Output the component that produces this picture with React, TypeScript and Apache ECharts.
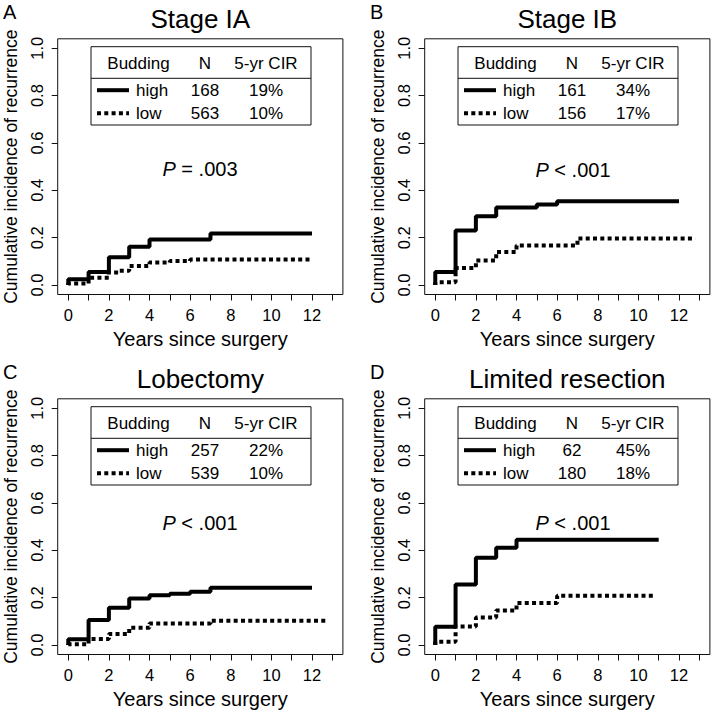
import React, { useEffect, useRef } from "react";
import * as echarts from "echarts";

// ---- Data ----
const panelTitles = ["Stage IA", "Stage IB", "Lobectomy", "Limited resection"];
const panelLetters = ["A", "B", "C", "D"];
const highN = ["168", "161", "257", "62"];
const lowN = ["563", "156", "539", "180"];
const highCIR = ["19%", "34%", "22%", "45%"];
const lowCIR = ["10%", "17%", "10%", "18%"];
const pValues = ["= .003", "< .001", "< .001", "< .001"];

const stageIAHighYears = [0, 0, 1, 2, 3, 4, 7, 12];
const stageIAHighCIR = [0, 0.024, 0.055, 0.117, 0.162, 0.192, 0.218, 0.218];
const stageIALowYears = [0, 0, 1, 2, 2.5, 3, 4, 5, 6, 12];
const stageIALowCIR = [0, 0.006, 0.031, 0.053, 0.06, 0.08, 0.095, 0.102, 0.108, 0.108];

const stageIBHighYears = [0, 0, 1, 2, 3, 5, 6, 12];
const stageIBHighCIR = [0, 0.055, 0.23, 0.29, 0.327, 0.34, 0.354, 0.354];
const stageIBLowYears = [0, 0, 1, 2, 3, 4, 7, 12.8];
const stageIBLowCIR = [0, 0.012, 0.072, 0.104, 0.14, 0.167, 0.197, 0.197];

const lobectomyHighYears = [0, 0, 1, 2, 3, 4, 5, 6, 7, 12];
const lobectomyHighCIR = [0, 0.024, 0.106, 0.157, 0.197, 0.21, 0.217, 0.225, 0.242, 0.242];
const lobectomyLowYears = [0, 0, 1, 2, 3, 4, 7, 12.8];
const lobectomyLowCIR = [0, 0.003, 0.025, 0.047, 0.073, 0.091, 0.103, 0.103];

const limitedHighYears = [0, 0, 1, 2, 3, 4, 11];
const limitedHighCIR = [0, 0.077, 0.256, 0.369, 0.411, 0.445, 0.445];
const limitedLowYears = [0, 0, 1, 2, 3, 4, 6, 10.85];
const limitedLowCIR = [0, 0.014, 0.078, 0.116, 0.146, 0.177, 0.208, 0.208];

const xTicks = [0, 1, 2, 3, 4, 5, 6, 7, 8, 9, 10, 11, 12, 13];
const xTickLabels = [0, 2, 4, 6, 8, 10, 12];
const yTicks = [0, 0.2, 0.4, 0.6, 0.8, 1.0];

const highSeries = [
  [stageIAHighYears, stageIAHighCIR],
  [stageIBHighYears, stageIBHighCIR],
  [lobectomyHighYears, lobectomyHighCIR],
  [limitedHighYears, limitedHighCIR],
];
const lowSeries = [
  [stageIALowYears, stageIALowCIR],
  [stageIBLowYears, stageIBLowCIR],
  [lobectomyLowYears, lobectomyLowCIR],
  [limitedLowYears, limitedLowCIR],
];

// ---- Layout ----
const FONT = "'Liberation Sans', Arial, Helvetica, sans-serif";
const DX = [0, 367, 0, 367];
const DY = [0, 0, 360, 360];
const GRID_LEFT = 57.7;
const GRID_TOP = 38.8;
const GRID_W = 285.2;
const GRID_H = 255.7;
const DOT = [4, 3.3];
const LW = 4;
const pPos = [
  [200, 169],
  [573, 170],
  [200, 523],
  [573, 523],
];

function zip(xs: number[], ys: number[]) {
  return xs.map((x, i) => [x, ys[i]]);
}

function buildOption() {
  const grid: any[] = [];
  const xAxis: any[] = [];
  const yAxis: any[] = [];
  const series: any[] = [];
  const graphic: any[] = [];

  for (let i = 0; i < 4; i++) {
    const dx = DX[i];
    const dy = DY[i];
    grid.push({
      left: GRID_LEFT + dx,
      top: GRID_TOP + dy,
      width: GRID_W,
      height: GRID_H,
      show: true,
      borderColor: "#111",
      borderWidth: 1,
      backgroundColor: "transparent",
      containLabel: false,
      outerBoundsMode: "none",
    });
    xAxis.push({
      type: "value",
      gridIndex: i,
      min: -0.52,
      max: 13.52,
      name: "Years since surgery",
      nameLocation: "middle",
      nameGap: 34,
      nameTextStyle: { fontFamily: FONT, fontSize: 20, color: "#000" },
      axisLine: { show: false, onZero: false },
      axisTick: {
        show: true,
        inside: false,
        length: 6,
        customValues: xTicks,
        lineStyle: { color: "#111", width: 1 },
      },
      axisLabel: {
        show: true,
        customValues: xTickLabels,
        margin: 12,
        fontFamily: FONT,
        fontSize: 16.5,
        color: "#000",
      },
      splitLine: { show: false },
    });
    yAxis.push({
      type: "value",
      gridIndex: i,
      min: -0.04,
      max: 1.04,
      name: "Cumulative incidence of recurrence",
      nameLocation: "middle",
      nameRotate: 90,
      nameGap: 38,
      nameTextStyle: { fontFamily: FONT, fontSize: 17.5, color: "#000" },
      axisLine: { show: false, onZero: false },
      axisTick: {
        show: true,
        inside: false,
        length: 6,
        customValues: yTicks,
        lineStyle: { color: "#111", width: 1 },
      },
      axisLabel: {
        show: true,
        customValues: yTicks,
        rotate: 90,
        margin: 12,
        fontFamily: FONT,
        fontSize: 16.5,
        color: "#000",
        formatter: (v: number) => v.toFixed(1),
      },
      splitLine: { show: false },
    });
    series.push({
      type: "line",
      name: "high",
      xAxisIndex: i,
      yAxisIndex: i,
      step: "end",
      symbol: "none",
      showSymbol: false,
      silent: true,
      data: zip(highSeries[i][0], highSeries[i][1]),
      lineStyle: { color: "#000", width: LW, type: "solid", cap: "butt" },
    });
    series.push({
      type: "line",
      name: "low",
      xAxisIndex: i,
      yAxisIndex: i,
      step: "end",
      symbol: "none",
      showSymbol: false,
      silent: true,
      data: zip(lowSeries[i][0], lowSeries[i][1]),
      lineStyle: { color: "#000", width: LW, type: DOT, cap: "butt" },
    });

    // panel letter
    graphic.push({
      type: "text",
      x: 3 + dx,
      y: 11.5 + dy,
      style: {
        text: panelLetters[i],
        font: `20px ${FONT}`,
        fill: "#000",
        verticalAlign: "middle",
        align: "left",
      },
    });
    // title
    graphic.push({
      type: "text",
      x: GRID_LEFT + GRID_W / 2 + dx,
      y: 18.5 + dy,
      style: {
        text: panelTitles[i],
        font: `26px ${FONT}`,
        fill: "#000",
        verticalAlign: "middle",
        align: "center",
      },
    });
    // legend table
    const lx = 91 + dx;
    const ly = 46.7 + dy;
    const lw = 220;
    const lh = 78.3;
    const txt = (t: string, x: number, y: number, align: string) => ({
      type: "text",
      x: lx + x,
      y: ly + y,
      style: {
        text: t,
        font: `17px ${FONT}`,
        fill: "#000",
        align,
        verticalAlign: "middle",
      },
    });
    graphic.push({
      type: "rect",
      shape: { x: lx, y: ly, width: lw, height: lh },
      style: { fill: "#fff", stroke: "#111", lineWidth: 1 },
    });
    graphic.push({
      type: "line",
      shape: { x1: lx, y1: ly + 31.6, x2: lx + lw, y2: ly + 31.6 },
      style: { stroke: "#111", lineWidth: 1 },
    });
    graphic.push(txt("Budding", 47.5, 16.5, "center"));
    graphic.push(txt("N", 114, 16.5, "center"));
    graphic.push(txt("5-yr CIR", 175, 16.5, "center"));
    graphic.push({
      type: "line",
      shape: { x1: lx + 6, y1: ly + 43.5, x2: lx + 38, y2: ly + 43.5 },
      style: { stroke: "#000", lineWidth: LW },
    });
    graphic.push({
      type: "line",
      shape: { x1: lx + 6, y1: ly + 66.5, x2: lx + 38, y2: ly + 66.5 },
      style: { stroke: "#000", lineWidth: LW, lineDash: DOT },
    });
    graphic.push(txt("high", 45, 43.5, "left"));
    graphic.push(txt("low", 45, 66.5, "left"));
    graphic.push(txt(highN[i], 114, 43.5, "center"));
    graphic.push(txt(lowN[i], 114, 66.5, "center"));
    graphic.push(txt(highCIR[i], 175, 43.5, "center"));
    graphic.push(txt(lowCIR[i], 175, 66.5, "center"));
    // P value
    graphic.push({
      type: "text",
      x: pPos[i][0],
      y: pPos[i][1],
      style: {
        text: `{i|P} ${pValues[i]}`,
        font: `20px ${FONT}`,
        fill: "#000",
        align: "center",
        verticalAlign: "middle",
        rich: {
          i: { fontStyle: "italic", fontFamily: FONT, fontSize: 20, fill: "#000" },
        },
      },
    });
  }

  return {
    animation: false,
    backgroundColor: "#fff",
    grid,
    xAxis,
    yAxis,
    series,
    graphic,
  };
}

export default function App() {
  const ref = useRef<HTMLDivElement>(null);
  useEffect(() => {
    document.body.style.margin = "0";
    if (!ref.current) return;
    const chart = echarts.init(ref.current, undefined, { renderer: "svg" });
    chart.setOption(buildOption() as any);
    return () => chart.dispose();
  }, []);
  return <div ref={ref} style={{ width: 712, height: 713 }} />;
}
